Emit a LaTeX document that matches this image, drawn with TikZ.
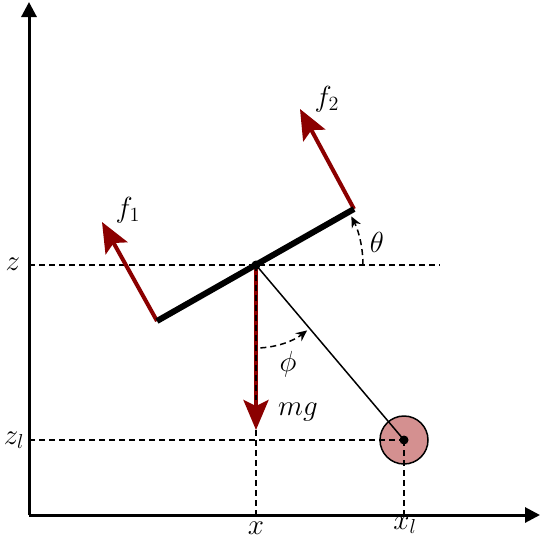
\documentclass[tikz,border=0pt]{standalone}
\usetikzlibrary{arrows.meta,calc}
\definecolor{fred}{RGB}{139,0,0}
\definecolor{loadc}{RGB}{212,144,144}
\begin{document}
\begin{tikzpicture}[x=1pt,y=-1pt,
  axis/.style={line width=3pt,-{Triangle[length=15pt,width=15pt]}},
  dsh/.style={dash pattern=on 6pt off 4pt, line width=1.5pt},
  force/.style={fred, line width=4pt, -{Stealth[length=30pt,width=25pt,inset=6pt]}},
  angarr/.style={dash pattern=on 6pt off 4pt, line width=1.5pt, -{Stealth[length=11pt,width=10pt]}},
  lbl/.style={font=\fontsize{20}{24}\selectfont, scale=1.4, inner sep=0pt}]
\useasboundingbox (0,0) rectangle (541,539);
% coordinates
\coordinate (O) at (29,515);
\coordinate (Ytop) at (29,2);
\coordinate (Xend) at (540,515);
\coordinate (C) at (256,265);
\coordinate (A) at (157,321);
\coordinate (B) at (354,209);
\coordinate (F1) at (102,222);
\coordinate (F2) at (300,109);
\coordinate (L) at (404,440);
\coordinate (Zl) at (29,440);
\coordinate (Zs) at (29,265);
\coordinate (Ze) at (440,265);
\coordinate (Xf) at (256,515);
\coordinate (Xlf) at (404,515);
\coordinate (G) at (256,430);
\coordinate (Gh) at (256,400);
% axes
\draw[axis] (O) -- (Ytop);
\draw[axis] (O) -- (Xend);
% load
\draw[line width=1.5pt, fill=loadc] (L) circle (24);
% dashed guides
\draw[dsh] (Zs) -- (Ze);
\draw[dsh] (Zl) -- (L);
\draw[dsh] (L) -- (Xlf);
% gravity
\draw[force] (C) -- (G);
\draw[dsh] (C) -- (Gh);
\draw[dsh] (G) -- (Xf);
% pendulum
\draw[line width=1.5pt] (C) -- (L);
\fill (L) circle (4.5);
% forces
\draw[force] (A) -- (F1);
\draw[force] (B) -- (F2);
% body
\draw[line width=6pt] (A) -- (B);
\fill (C) circle (4.5);
% angles
\draw[angarr] ($(C)+(107,0)$) arc[start angle=0, end angle=-27, radius=107];
\draw[angarr] ($(C)+(87:83)$) arc[start angle=87, end angle=52, radius=83];
% labels
\node[lbl] (lz) at (13,264) {$z$};
\node[lbl] (lzl) at (14,440) {$z_l$};
\node[lbl] (lx) at (256,528) {$x$};
\node[lbl] (lxl) at (405,525) {$x_l$};
\node[lbl] (lf1) at (128,210) {$f_1$};
\node[lbl] (lf2) at (327,99) {$f_2$};
\node[lbl] (lth) at (377,242) {$\theta$};
\node[lbl] (lph) at (288,364) {$\phi$};
\node[lbl] (lmg) at (298,412) {$mg$};
\end{tikzpicture}
\end{document}
